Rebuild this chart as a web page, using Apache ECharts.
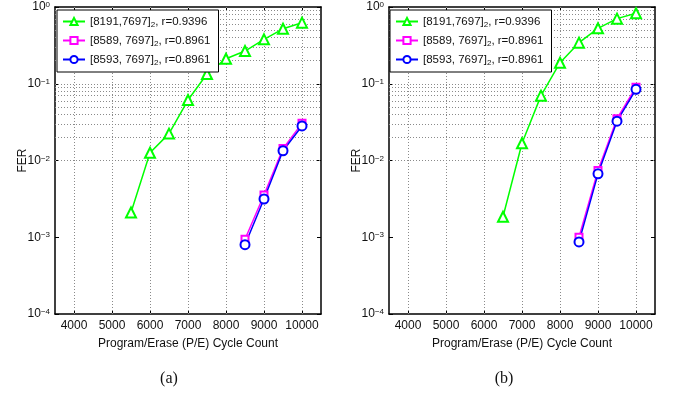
<!DOCTYPE html>
<html>
<head>
<meta charset="utf-8">
<script src="https://cdn.jsdelivr.net/npm/echarts@6/dist/echarts.min.js"></script>
<style>
  html, body { margin: 0; padding: 0; background: #fff; }
  #chart { width: 675px; height: 394px; }
</style>
</head>
<body>
<div id="chart"></div>
<script>
// P/E cycle counts
const xTicks = [4000, 5000, 6000, 7000, 8000, 9000, 10000]
const yDecades = [1e-4, 1e-3, 1e-2, 1e-1, 1]
const minorSteps = [2, 3, 4, 5, 6, 7, 8, 9]

const names = ['[8191,7697], r=0.9396', '[8589, 7697], r=0.8961', '[8593, 7697], r=0.8961']

// (a)
const xGreenA = [5500, 6000, 6500, 7000, 7500, 8000, 8500, 9000, 9500, 10000]
const ferGreenA = [0.0021, 0.0126, 0.0224, 0.0614, 0.134, 0.212, 0.267, 0.379, 0.52, 0.625]
const xTailA = [8500, 9000, 9500, 10000]
const ferMagentaA = [0.00094, 0.00355, 0.0143, 0.0305]
const ferBlueA = [0.0008, 0.00315, 0.0134, 0.0282]

// (b)
const xGreenB = [6500, 7000, 7500, 8000, 8500, 9000, 9500, 10000]
const ferGreenB = [0.00185, 0.0168, 0.070, 0.188, 0.343, 0.527, 0.705, 0.828]
const xTailB = [8500, 9000, 9500, 10000]
const ferMagentaB = [0.001, 0.0074, 0.035, 0.090]
const ferBlueB = [0.00087, 0.0067, 0.0325, 0.0847]

const FONT = 'Liberation Sans, Arial, sans-serif'
const zip = (xs, ys) => xs.map((x, i) => [x, ys[i]])

// grid lines (major + minor), drawn through the axes
const hLines = []
yDecades.slice(0, -1).forEach(d => {
  if (d > 1e-4) hLines.push(d)
  minorSteps.forEach(m => hLines.push(d * m))
})
const gridMark = {
  silent: true,
  symbol: ['none', 'none'],
  z: 1,
  animation: false,
  label: { show: false },
  lineStyle: { type: [1, 2], color: '#8a8a8a', width: 1 },
  data: [...hLines.map(v => ({ yAxis: v })), ...xTicks.map(v => ({ xAxis: v }))]
}

const chart = echarts.init(document.getElementById('chart'))

const grids = [
  { left: 55, top: 7, width: 266, height: 307 },
  { left: 389, top: 7, width: 266, height: 307 }
]

const xAxis = []
const yAxis = []
grids.forEach((g, gi) => {
  xAxis.push({
    type: 'value', gridIndex: gi, position: 'bottom', min: 3500, max: 10500,
    name: 'Program/Erase (P/E) Cycle Count', nameLocation: 'middle', nameGap: 24,
    nameTextStyle: { fontFamily: FONT, fontSize: 12, color: '#111' },
    axisLine: { lineStyle: { color: '#000', width: 1.5 } },
    axisTick: { inside: true, length: 4, customValues: xTicks, lineStyle: { color: '#000' } },
    axisLabel: { customValues: xTicks, formatter: v => String(v), fontFamily: FONT, fontSize: 12, color: '#111', margin: 6 },
    splitLine: { show: false }
  })
  xAxis.push({
    type: 'value', gridIndex: gi, position: 'top', min: 3500, max: 10500,
    axisLine: { lineStyle: { color: '#000', width: 1.5 } },
    axisTick: { inside: true, length: 4, customValues: xTicks, lineStyle: { color: '#000' } },
    axisLabel: { show: false },
    splitLine: { show: false }
  })
  yAxis.push({
    type: 'log', logBase: 10, gridIndex: gi, position: 'left', min: 1e-4, max: 1,
    name: 'FER', nameLocation: 'middle', nameGap: 26, nameMoveOverlap: false,
    nameTextStyle: { fontFamily: FONT, fontSize: 12, color: '#111' },
    axisLine: { lineStyle: { color: '#000', width: 1.5 } },
    axisTick: { inside: true, length: 4, lineStyle: { color: '#000' } },
    axisLabel: {
      margin: 5, fontFamily: FONT, fontSize: 12, color: '#111',
      formatter: v => {
        const e = Math.round(Math.log10(v))
        return '10{sup|' + (e < 0 ? '\u2212' + (-e) : e) + '}'
      },
      rich: { sup: { fontSize: 8, lineHeight: 8, verticalAlign: 'top', fontFamily: FONT, color: '#111', padding: [0, 0, 6, 0] } }
    },
    splitLine: { show: false }
  })
  yAxis.push({
    type: 'log', logBase: 10, gridIndex: gi, position: 'right', min: 1e-4, max: 1,
    axisLine: { lineStyle: { color: '#000', width: 1.5 } },
    axisTick: { inside: true, length: 4, lineStyle: { color: '#000' } },
    axisLabel: { show: false },
    splitLine: { show: false }
  })
})

const mk = (name, color, symbol, size, data, axisIdx, withGrid) => {
  const s = {
    name, type: 'line', data,
    xAxisIndex: axisIdx, yAxisIndex: axisIdx,
    symbol, symbolSize: size, showAllSymbol: true,
    lineStyle: { color, width: 1.5 },
    itemStyle: { color, borderWidth: 1.2 },
    animation: false, z: 3
  }
  if (withGrid) s.markLine = gridMark
  return s
}

const series = [
  mk(names[0], '#00ff00', 'emptyTriangle', 10, zip(xGreenA, ferGreenA), 0, true),
  mk(names[1], '#ff00ff', 'emptyRect', 7, zip(xTailA, ferMagentaA), 0, false),
  mk(names[2], '#0000ff', 'emptyCircle', 9, zip(xTailA, ferBlueA), 0, false),
  mk(names[0], '#00ff00', 'emptyTriangle', 10, zip(xGreenB, ferGreenB), 2, true),
  mk(names[1], '#ff00ff', 'emptyRect', 7, zip(xTailB, ferMagentaB), 2, false),
  mk(names[2], '#0000ff', 'emptyCircle', 9, zip(xTailB, ferBlueB), 2, false)
]

const legendBase = {
  orient: 'vertical', top: 10, data: names,
  backgroundColor: '#fff', borderColor: '#000', borderWidth: 1,
  padding: [4, 8, 5, 5], itemGap: 4, itemWidth: 22, itemHeight: 9,
  selectedMode: false,
  formatter: n => n.replace(']', ']{sub|2}'),
  textStyle: {
    fontFamily: FONT, fontSize: 11.5, color: '#111', lineHeight: 15,
    rich: { sub: { fontSize: 8, lineHeight: 8, verticalAlign: 'bottom', fontFamily: FONT, color: '#111', padding: [7, 0, 0, 0] } }
  }
}

chart.setOption({
  backgroundColor: '#fff',
  animation: false,
  grid: grids,
  xAxis, yAxis,
  legend: [
    Object.assign({}, legendBase, { left: 57 }),
    Object.assign({}, legendBase, { left: 390 })
  ],
  title: [
    { text: '(a)', left: 164, top: 366, textAlign: 'center', textStyle: { fontFamily: 'Liberation Serif, Times New Roman, serif', fontSize: 16, fontWeight: 'normal', color: '#111' } },
    { text: '(b)', left: 499, top: 366, textAlign: 'center', textStyle: { fontFamily: 'Liberation Serif, Times New Roman, serif', fontSize: 16, fontWeight: 'normal', color: '#111' } }
  ],
  series
})
</script>
</body>
</html>
